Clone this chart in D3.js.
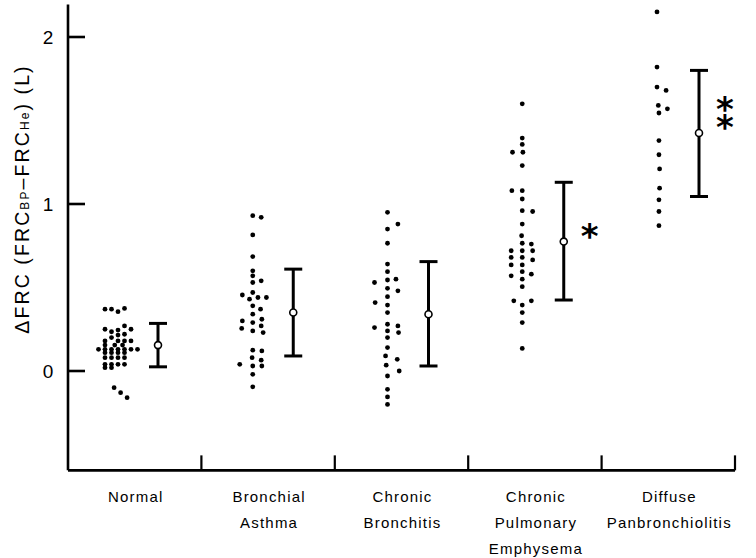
<!DOCTYPE html>
<html>
<head>
<meta charset="utf-8">
<script src="https://cdn.jsdelivr.net/npm/d3@7"></script>
<style>
  body { margin: 0; background: #fff; }
  svg { display: block; font-family: "Liberation Sans", Arial, sans-serif; }
</style>
</head>
<body>
<script>
// DATA
const categories = [
  ["Normal"],
  ["Bronchial", "Asthma"],
  ["Chronic", "Bronchitis"],
  ["Chronic", "Pulmonary", "Emphysema"],
  ["Diffuse", "Panbronchiolitis"]
];
const yTicks = [0, 1, 2];

// individual values, [value, horizontal jitter in dot widths]
const normal = [
  [0.37,-2],[0.37,-1],[0.355,0],[0.375,1],
  [0.27,1],
  [0.25,-2],[0.235,-1],[0.245,0],[0.25,2],
  [0.20,-1],[0.215,0],[0.22,1],
  [0.18,-2],[0.18,0],[0.18,1],[0.18,2],
  [0.155,-2],[0.155,-0.5],[0.155,0.7],
  [0.13,-3],[0.13,-2],[0.13,-1],[0.13,0],[0.13,1],[0.13,2],[0.13,3],
  [0.11,-2],[0.11,-1],[0.11,0],[0.11,1],
  [0.08,-2],[0.08,-1],[0.08,0],[0.08,1],
  [0.04,-2],[0.04,-1],[0.04,0],[0.04,1],
  [0.02,-2],[0.02,-1],
  [-0.10,-0.6],[-0.13,0.4],[-0.16,1.4]
];
const asthma = [
  [0.93,0],[0.92,1.3],[0.815,0],[0.685,0],[0.60,0],[0.57,0],
  [0.53,0],[0.54,1.3],[0.47,0],
  [0.455,-1.6],[0.43,-0.5],[0.44,0.8],[0.44,2.1],
  [0.39,0],[0.37,1.2],[0.34,0],
  [0.30,-1.6],[0.31,1.4],[0.29,0],
  [0.255,-1.7],[0.27,1.3],[0.24,0],[0.23,1.6],
  [0.125,0],[0.12,1.4],[0.08,-0.1],[0.065,1.3],
  [0.04,-2],[0.03,0],[0.03,1.4],
  [-0.02,0],[-0.095,0]
];
const bronchitis = [
  [0.95,0],[0.88,1.6],[0.85,0],[0.765,0],[0.64,0],[0.595,0],
  [0.545,0],[0.55,1.3],[0.53,-2],[0.495,0],[0.48,1.6],
  [0.445,0],[0.41,-1.9],[0.395,0],[0.35,0],
  [0.26,-2],[0.28,0],[0.27,1.6],[0.24,0],[0.23,1.7],
  [0.20,0],[0.14,0],[0.09,-0.3],[0.07,1.5],[0.035,-0.2],
  [0.00,1.8],[-0.03,0],[-0.11,0],[-0.155,0],[-0.20,0]
];
const emphysema = [
  [1.60,0],[1.395,0],[1.357,0],[1.31,-1.5],[1.31,0.1],[1.23,0],
  [1.08,-1.6],[1.08,0],[1.03,0],[0.96,0],[0.955,1.6],
  [0.88,0],[0.81,-0.1],[0.765,0],[0.76,1.4],
  [0.72,-1.7],[0.72,0],[0.72,1.6],
  [0.68,-1.7],[0.68,0],[0.665,1.6],
  [0.635,-1.7],[0.635,0],[0.595,0],[0.58,1.4],
  [0.57,-1.7],[0.55,0],[0.505,0],
  [0.42,-1.3],[0.42,1.4],[0.395,0],[0.35,0],[0.29,0],[0.135,0]
];
const panbronchiolitis = [
  [2.15,0],[1.82,0],[1.70,0],[1.68,1.4],[1.59,0.2],[1.57,1.6],
  [1.545,0.3],[1.38,0.3],[1.295,0.3],[1.21,0.4],[1.095,0.4],
  [1.025,0.3],[0.955,0.3],[0.87,0.3]
];
const groups = [normal, asthma, bronchitis, emphysema, panbronchiolitis];

// mean and spread bars
const means = [0.155, 0.35, 0.34, 0.775, 1.425];
const upper = [0.285, 0.61, 0.655, 1.13, 1.80];
const lower = [0.025, 0.09, 0.03, 0.425, 1.045];
const marks = ["", "", "", "*", "**"];

// LAYOUT
const width = 756, height = 558;
const svg = d3.select("body").append("svg")
  .attr("width", width).attr("height", height);

const y = d3.scaleLinear().domain([0, 2]).range([371, 37]);
const x = d3.scaleLinear().domain([0, 5]).range([68, 735]);
const xDot = d3.scaleLinear().domain([0, 4]).range([118, 657]);
const xBar = d3.scaleLinear().domain([0, 4]).range([158, 699]);
const yMin = -0.595, yMax = 2.195;
const jitter = 6.5;

// Y AXIS
svg.append("line")
  .attr("x1", x(0)).attr("x2", x(0))
  .attr("y1", y(yMax)).attr("y2", y(yMin))
  .attr("stroke", "#000").attr("stroke-width", 2.6);
svg.selectAll(".ytick").data(yTicks).join("line")
  .attr("x1", x(0)).attr("x2", x(0) + 17)
  .attr("y1", d => y(d)).attr("y2", d => y(d))
  .attr("stroke", "#000").attr("stroke-width", 2.6);
svg.selectAll(".ylab").data(yTicks).join("text")
  .attr("x", 48).attr("y", d => y(d))
  .attr("dy", "0.36em")
  .attr("text-anchor", "middle")
  .attr("font-size", 19)
  .text(d => d);

// Y LABEL
const yl = svg.append("text")
  .attr("transform", `translate(29, ${y(1.03)}) rotate(-90)`)
  .attr("text-anchor", "middle")
  .attr("font-size", 19.5)
  .attr("letter-spacing", 2.1);
yl.append("tspan").text("ΔFRC (FRC");
yl.append("tspan").attr("font-size", 12).text("BP");
yl.append("tspan").text("–FRC");
yl.append("tspan").attr("font-size", 12).text("He");
yl.append("tspan").text(") (L)");

// X AXIS
svg.append("line")
  .attr("x1", x(0)).attr("x2", x(5))
  .attr("y1", y(yMin)).attr("y2", y(yMin))
  .attr("stroke", "#000").attr("stroke-width", 2.6);
svg.selectAll(".xtick").data(d3.range(1, 6)).join("line")
  .attr("x1", d => x(d)).attr("x2", d => x(d))
  .attr("y1", y(yMin)).attr("y2", y(yMin) - 15)
  .attr("stroke", "#000").attr("stroke-width", 2.2);

const labs = svg.selectAll(".xlab").data(categories).join("text")
  .attr("text-anchor", "middle")
  .attr("font-size", 15)
  .attr("letter-spacing", 1.2)
  .attr("transform", (d, i) => `translate(${x(i + 0.5) + 1}, 502)`);
labs.selectAll("tspan").data(d => d).join("tspan")
  .attr("x", 0).attr("y", (d, j) => j * 26)
  .text(d => d);

// DOTS
groups.forEach((g, i) => {
  svg.append("g").selectAll("circle").data(g).join("circle")
    .attr("cx", d => xDot(i) + d[1] * jitter)
    .attr("cy", d => y(d[0]))
    .attr("r", 2.4)
    .attr("fill", "#000");
});

// MEAN BARS
const bars = svg.append("g").selectAll("g").data(means).join("g");
bars.append("line")
  .attr("x1", (d, i) => xBar(i)).attr("x2", (d, i) => xBar(i))
  .attr("y1", (d, i) => y(upper[i])).attr("y2", (d, i) => y(lower[i]))
  .attr("stroke", "#000").attr("stroke-width", 3);
bars.selectAll(".cap").data((d, i) => [[i, upper[i]], [i, lower[i]]]).join("line")
  .attr("x1", d => xBar(d[0]) - 9).attr("x2", d => xBar(d[0]) + 9)
  .attr("y1", d => y(d[1])).attr("y2", d => y(d[1]))
  .attr("stroke", "#000").attr("stroke-width", 3);
bars.append("circle")
  .attr("cx", (d, i) => xBar(i)).attr("cy", d => y(d))
  .attr("r", 3.5)
  .attr("fill", "#fff").attr("stroke", "#000").attr("stroke-width", 1.6);

// SIGNIFICANCE MARKS (one text per group, stars stacked upward)
marks.forEach((m, i) => {
  if (!m) return;
  const t = svg.append("text")
    .attr("text-anchor", "middle")
    .attr("font-size", 34)
    .attr("font-weight", "bold")
    .attr("font-family", "DejaVu Sans");
  m.split("").forEach((c, k) => {
    t.append("tspan")
      .attr("x", xBar(i) + 26)
      .attr("y", y(means[i] + 0.065) + 17 - k * 18)
      .text(c);
  });
});
</script>
</body>
</html>
